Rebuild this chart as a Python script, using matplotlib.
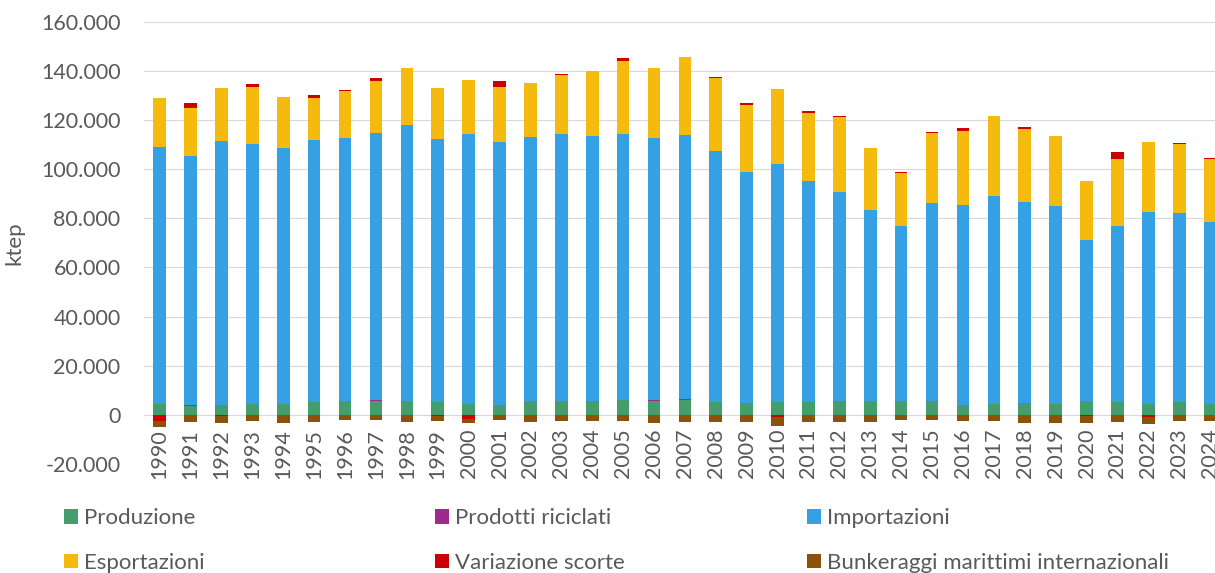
import numpy as np
import matplotlib
matplotlib.use('Agg')
from matplotlib import pyplot as plt
from matplotlib.ticker import FuncFormatter

plt.rcParams['font.family'] = ['Lato', 'DejaVu Sans']

years = list(range(1990, 2025))
produzione = [4350, 3800, 4200, 4350, 4600, 5150, 5550, 5850, 5550, 5150,
              4600, 4050, 5550, 5550, 5550, 6100, 5850, 6250, 5400, 4750,
              5300, 5300, 5550, 5550, 5700, 5550, 3950, 4350, 4900, 4600,
              5550, 5150, 4600, 5300, 4600]
riciclati = [50, 50, 50, 50, 50, 50, 50, 50, 50, 50,
             50, 50, 50, 50, 50, 50, 50, 50, 50, 50,
             50, 50, 50, 50, 50, 50, 50, 50, 50, 50,
             50, 50, 50, 50, 50]
importazioni = [104700, 101550, 107050, 105900, 104050, 106500, 107100, 108600, 112300, 107100,
                109750, 106750, 107550, 108500, 107800, 108250, 106800, 107650, 101850, 94100,
                96800, 89750, 85150, 77850, 71200, 80700, 81500, 84750, 81500, 80450,
                65650, 71750, 78000, 76600, 73700]
esportazioni = [19650, 19300, 21500, 23200, 20700, 17300, 19000, 21300, 23300, 20750,
                21800, 22600, 21800, 24100, 26450, 29500, 28350, 31850, 29700, 27100,
                30250, 27650, 30500, 25100, 21400, 28350, 29950, 32250, 29800, 28200,
                23850, 27000, 28450, 28100, 25600]
variazione = [-2400, 2100, -300, 1300, -200, 950, 400, 1100, 0, -300,
              -1600, 2350, -200, 400, 200, 1100, 0, 0, 500, 950,
              -700, 700, 550, 0, 450, 400, 1200, 400, 700, 0,
              -300, 3100, -700, 400, 500]
bunkeraggi = [-2500, -2850, -3100, -2600, -3050, -2700, -2200, -2200, -2850, -2150,
              -1650, -2050, -2650, -2450, -2450, -2550, -3100, -2850, -2850, -2700,
              -3650, -2850, -2850, -2850, -2150, -2150, -2550, -2550, -3100, -3400,
              -2800, -2850, -2950, -2550, -2550]

series = [
    ('Produzione', produzione, '#449D6D'),
    ('Prodotti riciclati', riciclati, '#A0288F'),
    ('Importazioni', importazioni, '#36A0E4'),
    ('Esportazioni', esportazioni, '#F4BA0E'),
    ('Variazione scorte', variazione, '#CC0000'),
    ('Bunkeraggi marittimi internazionali', bunkeraggi, '#8B5208'),
]

grey = '#595959'
fig = plt.figure(figsize=(12.15, 5.73), dpi=100)
ax = fig.add_axes([0.1187, 0.190, 0.890, 0.7723])

x = np.arange(len(years))
pos = np.zeros(len(years))
neg = np.zeros(len(years))
handles = []
for name, vals, col in series:
    v = np.array(vals, dtype=float)
    bottom = np.where(v >= 0, pos, neg)
    h = ax.bar(x, v, 0.41, bottom=bottom, color=col, label=name, linewidth=0, zorder=3)
    handles.append(h)
    pos = pos + np.where(v >= 0, v, 0)
    neg = neg + np.where(v < 0, v, 0)

ax.set_ylim(-20000, 160000)
ax.set_xlim(-0.5, len(years) - 0.5)
ax.set_yticks(np.arange(-20000, 160001, 20000))
ax.yaxis.set_major_formatter(FuncFormatter(lambda v, p: f'{int(v):,}'.replace(',', '.')))
ax.grid(axis='y', color='#D9D9D9', linewidth=0.8, zorder=0)
for s in ax.spines.values():
    s.set_visible(False)
ax.spines['bottom'].set_position(('data', 0))
ax.set_xticks(x)
ax.set_xticklabels([str(y) for y in years], rotation=90, va='top', ha='center')
ax.tick_params(axis='x', length=0, pad=10, labelsize=15.5, labelcolor=grey)
ax.tick_params(axis='y', length=0, pad=17, labelsize=15.5, labelcolor=grey)
ax.set_ylabel('ktep', fontsize=16, color=grey, labelpad=12)

# legend: three columns of two rows, Excel style
col_x = [64 / 1215, 435 / 1215, 807 / 1215]
for i in range(3):
    hs = [handles[i], handles[i + 3]]
    fig.legend(hs, [h.get_label() for h in hs], loc='center left',
               bbox_to_anchor=(col_x[i], 1 - 540.4 / 573), frameon=False,
               fontsize=16, labelcolor=grey, borderpad=0, borderaxespad=0,
               handlelength=0.62, handleheight=0.62, handletextpad=0.3,
               labelspacing=1.1)

fig.savefig('out.png', dpi=100)
